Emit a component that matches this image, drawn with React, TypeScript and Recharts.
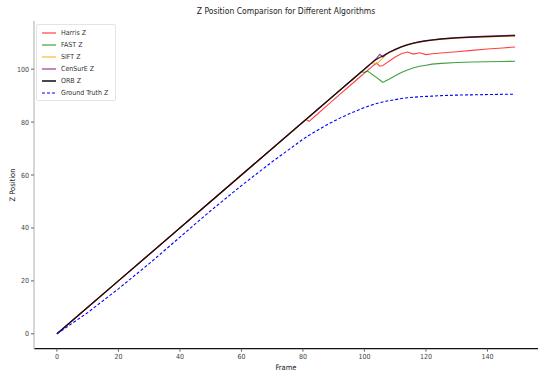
import { LineChart, Line, XAxis, YAxis } from 'recharts';

const frames = [0, 10, 20, 30, 40, 50, 60, 70, 80, 81, 82, 84, 88, 92, 96, 99, 100, 101, 102, 103, 104, 105, 106, 107, 108, 110, 112, 114, 116, 118, 120, 122, 125, 130, 135, 140, 145, 149];

const harrisZ = [0, 10, 20, 30, 40, 50, 60, 70, 80, 81, 80.3, 82.3, 86.4, 90.5, 94.5, 97.5, 98.5, 99.5, 100.5, 101.5, 102.3, 101.1, 101.4, 102.2, 103, 104.6, 105.8, 106.5, 105.7, 106.2, 105.5, 105.8, 106.1, 106.6, 107.1, 107.6, 108, 108.4];
const fastZ = [0, 10, 20, 30, 40, 50, 60, 70, 80, 81, 82, 84, 88, 92, 96, 99, 98.8, 99.3, 98.5, 97.6, 96.8, 95.9, 95, 95.6, 96.2, 97.5, 98.7, 99.7, 100.5, 101.1, 101.5, 101.9, 102.2, 102.5, 102.7, 102.8, 102.9, 103];
const siftZ = [0, 10, 20, 30, 40, 50, 60, 70, 80, 81, 82, 84, 88, 92, 96, 99, 100, 101, 102, 102.4, 102, 103, 104.3, 105.4, 106.2, 107.3, 108.3, 109.1, 109.7, 110.2, 110.6, 110.9, 111.3, 111.7, 112, 112.2, 112.4, 112.5];
const censureZ = [0, 10, 20, 30, 40, 50, 60, 70, 80, 81, 82, 84, 88, 92, 96, 99, 100, 101, 102, 103, 104.2, 105.6, 104.6, 105.6, 106.4, 107.5, 108.5, 109.3, 109.9, 110.4, 110.8, 111.1, 111.5, 111.9, 112.2, 112.5, 112.7, 112.9];
const orbZ = [0, 10, 20, 30, 40, 50, 60, 70, 80, 81, 82, 84, 88, 92, 96, 99, 100, 101, 102, 103, 103.8, 104.4, 105, 105.7, 106.3, 107.4, 108.4, 109.2, 109.8, 110.3, 110.7, 111, 111.4, 111.8, 112.1, 112.3, 112.5, 112.7];
const groundTruthZ = [0, 8, 17, 26.5, 36.5, 46.5, 56, 65, 73.5, 74.3, 75, 76.4, 79.1, 81.5, 83.6, 85, 85.5, 85.9, 86.3, 86.7, 87, 87.3, 87.6, 87.9, 88.1, 88.5, 88.9, 89.2, 89.4, 89.6, 89.7, 89.8, 90, 90.2, 90.3, 90.4, 90.5, 90.5];

const xTicks = [0, 20, 40, 60, 80, 100, 120, 140];
const yTicks = [0, 20, 40, 60, 80, 100];

const data = frames.map((f, i) => ({
  frame: f,
  harris: harrisZ[i],
  fast: fastZ[i],
  sift: siftZ[i],
  censure: censureZ[i],
  orb: orbZ[i],
  gt: groundTruthZ[i],
}));

const series = [
  { key: 'harris', name: 'Harris Z', color: 'rgba(255,0,0,0.75)', width: 1.1 },
  { key: 'fast', name: 'FAST Z', color: 'rgba(0,128,0,0.75)', width: 1.1 },
  { key: 'sift', name: 'SIFT Z', color: 'rgba(255,165,0,0.8)', width: 1.1 },
  { key: 'censure', name: 'CenSurE Z', color: 'rgba(128,0,128,0.8)', width: 1.1 },
  { key: 'orb', name: 'ORB Z', color: 'rgba(0,0,0,0.8)', width: 1.3 },
  { key: 'gt', name: 'Ground Truth Z', color: 'blue', width: 1.1, dash: '3 2' },
];

const font = "'Liberation Sans Narrow', 'DejaVu Sans Condensed', 'DejaVu Sans', sans-serif";
const tickStyle = { fontSize: 7, fill: '#444', fontFamily: font };
const labelStyle = { fontFamily: font, fontSize: 7.5, color: '#222' };

function LegendBox() {
  return (
    <div
      style={{
        position: 'absolute',
        left: 36,
        top: 24,
        border: '1px solid #e4e4e4',
        borderRadius: 2,
        background: 'rgba(255,255,255,0.9)',
        padding: '2px 7px 1px 5px',
        fontFamily: font,
        fontSize: 7,
        color: '#333',
      }}
    >
      {series.map((s) => (
        <div key={s.key} style={{ display: 'flex', alignItems: 'center', height: 12 }}>
          <svg width={14} height={6} style={{ marginRight: 5 }}>
            <line
              x1={0}
              y1={3}
              x2={14}
              y2={3}
              stroke={s.color}
              strokeWidth={s.key === 'orb' ? 1.8 : 1.2}
              strokeDasharray={s.dash}
            />
          </svg>
          <span>{s.name}</span>
        </div>
      ))}
    </div>
  );
}

export default function App() {
  return (
    <div style={{ position: 'absolute', left: 0, top: 0, width: 538, height: 374, background: '#fff' }}>
      <LineChart width={538} height={374} data={data} margin={{ top: 21, right: 0, bottom: 0, left: 4 }}>
        <XAxis
          xAxisId="top"
          orientation="top"
          dataKey="frame"
          type="number"
          domain={[-7.45, 156.45]}
          height={0}
          tick={false}
          tickLine={false}
          axisLine={{ stroke: '#aaa', strokeWidth: 1.5 }}
          allowDataOverflow
        />
        <XAxis
          xAxisId="bottom"
          dataKey="frame"
          type="number"
          domain={[-7.45, 156.45]}
          ticks={xTicks}
          height={25.3}
          tick={tickStyle}
          tickSize={3}
          tickLine={{ stroke: '#666' }}
          axisLine={{ stroke: '#111', strokeWidth: 1.2 }}
          allowDataOverflow
        />
        <YAxis
          type="number"
          domain={[-5.63, 118.2]}
          ticks={yTicks}
          width={30}
          tick={tickStyle}
          tickSize={3}
          tickLine={{ stroke: '#666' }}
          axisLine={{ stroke: '#c8c8c8', strokeWidth: 1.5 }}
          allowDataOverflow
        />
        {series.map((s) => (
          <Line
            key={s.key}
            xAxisId="bottom"
            dataKey={s.key}
            name={s.name}
            type="linear"
            stroke={s.color}
            strokeWidth={s.width}
            strokeDasharray={s.dash}
            dot={false}
            isAnimationActive={false}
          />
        ))}
      </LineChart>
      <div
        style={{
          position: 'absolute',
          top: 6,
          left: 34,
          width: 504,
          textAlign: 'center',
          fontFamily: font,
          fontSize: 8.5,
          color: '#222',
        }}
      >
        Z Position Comparison for Different Algorithms
      </div>
      <div
        style={{
          ...labelStyle,
          position: 'absolute',
          left: 12,
          top: 185,
          transform: 'translate(-50%, -50%) rotate(-90deg)',
          whiteSpace: 'nowrap',
        }}
      >
        Z Position
      </div>
      <div style={{ ...labelStyle, position: 'absolute', left: 34, width: 504, top: 363, textAlign: 'center' }}>
        Frame
      </div>
      <LegendBox />
    </div>
  );
}
